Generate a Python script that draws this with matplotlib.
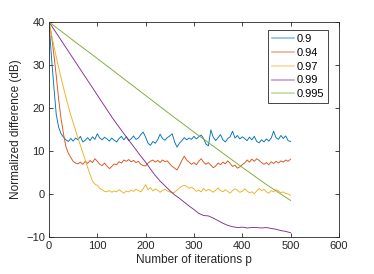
import numpy as np
import matplotlib
matplotlib.use("Agg")
import matplotlib.pyplot as plt

# iterations for the noisy curves (every 5th iteration)
p5 = list(range(0, 501, 5))
p10 = list(range(0, 501, 10))
p50 = list(range(0, 501, 50))

lam_labels = ["0.9", "0.94", "0.97", "0.99", "0.995"]

diff_090 = [40, 32.0, 25.0, 18.5, 15.5, 14.0, 13.2, 12.6, 12.2, 12.9,
            12.3, 13.0, 12.6, 13.4, 12.1, 12.5, 13.1, 12.4, 13.3, 12.7,
            14.0, 13.0, 12.6, 13.2, 12.8, 12.3, 13.0, 12.5, 12.1, 12.9,
            13.4, 12.6, 13.3, 12.4, 12.8, 13.5, 12.7, 13.0, 13.8, 14.4,
            13.2, 11.8, 11.3, 12.2, 11.8, 12.6, 13.9, 12.9, 12.5, 13.1,
            13.5, 14.0, 12.1, 10.9, 11.8, 12.4, 13.1, 12.6, 13.0, 12.7,
            13.4, 12.8, 13.3, 13.7, 12.9, 11.6, 11.2, 14.9, 13.2, 12.4,
            13.1, 13.8, 12.6, 12.1, 12.9, 13.3, 14.6, 13.0, 13.6, 12.8,
            13.3, 12.9, 12.4, 13.2, 12.6, 13.4, 12.2, 11.9, 12.6, 12.1,
            12.8, 12.3, 13.0, 14.6, 13.1, 12.7, 13.6, 12.9, 13.5, 12.4,
            12.2]

diff_094 = [40, 37.0, 32.5, 27.5, 22.0, 17.5, 14.0, 11.0, 9.5, 8.5,
            7.6, 7.2, 7.0, 7.4, 6.9, 7.6, 7.1, 7.8, 7.3, 8.2,
            7.6, 6.9, 6.6, 7.2, 6.5, 5.9, 6.4, 7.0, 6.8, 7.5,
            7.2, 7.9, 7.6, 8.0, 7.5, 7.8, 7.3, 7.6, 6.9, 6.6,
            6.5, 7.2, 7.6, 7.9, 7.4, 7.8, 7.3, 7.9, 7.5, 7.7,
            7.0, 6.4, 6.0, 5.6, 6.6, 7.8, 8.8, 7.9, 7.4, 6.9,
            7.3, 6.8, 7.6, 8.2, 7.4, 6.9, 7.3, 6.7, 6.1, 6.5,
            7.2, 6.8, 7.4, 7.0, 7.7, 7.1, 6.4, 6.7, 6.0, 6.3,
            6.8, 7.2, 7.9, 7.4, 8.1, 7.6, 8.2, 7.8, 7.3, 6.9,
            7.3, 6.8, 7.5, 7.1, 7.6, 7.2, 7.7, 7.4, 7.9, 7.6,
            8.1]

diff_097 = [40, 37.2, 34.5, 31.9, 29.4, 27.0, 24.7, 22.5, 20.4, 18.4,
            16.6, 14.8, 13.0, 11.3, 9.6, 7.9, 6.2, 4.5, 3.0, 2.3,
            2.0, 1.3, 1.0, 0.6, 0.5, 0.8, 0.4, 0.7, 0.5, 1.0,
            0.6, 0.2, 0.7, 0.5, 0.9, 0.6, 1.1, 0.8, 0.5, 1.2,
            2.2, 1.0, 1.5, 0.7, 1.2, 0.9, 0.4, 0.8, 1.1, 0.7,
            0.5, 0.2, 0.4, 0.9, 1.4, 1.8, 2.0, 1.8, 1.3, 1.6,
            1.2, 0.6, 0.9, 0.5, 1.3, 0.7, 1.1, 0.8, 0.4, 0.9,
            1.4, 0.8, 0.5, 1.0, 0.6, 0.2, 0.8, 1.2, 0.9, 0.4,
            0.6, 1.2, 0.7, 0.3, 0.5, 0.1, 0.7, 1.3, 0.8, 1.1,
            0.5, 0.2, 0.8, 0.5, 1.0, 0.7, 0.3, 0.5, 0.1, 0.0,
            -0.3]

diff_099 = [40, 38.3, 36.6, 34.9, 33.2, 31.5, 29.8, 28.1, 26.4, 24.7,
            23.0, 21.3, 19.6, 17.9, 16.3, 14.8, 13.3, 11.8, 10.3, 8.8,
            7.4, 5.8, 4.3, 3.0, 1.9, 0.8, -0.2, -1.0, -1.9, -2.8,
            -3.6, -4.5, -5.0, -5.1, -5.6, -6.2, -6.8, -7.3, -7.6, -7.8,
            -7.7, -7.9, -7.8, -7.8, -7.9, -7.8, -8.0, -8.2, -8.5, -8.7,
            -9.0]

diff_0995 = [40, 35.7, 31.5, 27.2, 22.9, 18.6, 14.4, 10.3, 6.2, 2.2, -1.5]

colors = ["#0072BD", "#D95319", "#EDB120", "#7E2F8E", "#77AC30"]

plt.rcParams.update({
    "font.family": ["Liberation Sans", "DejaVu Sans"],
    "font.size": 8,
    "axes.linewidth": 0.6,
    "axes.edgecolor": "#262626",
    "xtick.color": "#262626",
    "ytick.color": "#262626",
    "xtick.direction": "in",
    "ytick.direction": "in",
    "xtick.top": True,
    "ytick.right": True,
    "xtick.major.size": 3,
    "ytick.major.size": 3,
    "xtick.major.width": 0.6,
    "ytick.major.width": 0.6,
})

fig = plt.figure(figsize=(3.74, 2.74), dpi=100)
ax = fig.add_axes([0.131, 0.135, 0.775, 0.785])

series = [(p5, diff_090), (p5, diff_094), (p5, diff_097), (p10, diff_099), (p50, diff_0995)]
for (x, y), c, lab in zip(series, colors, lam_labels):
    ax.plot(x, y, color=c, lw=0.65, label=lab)

ax.set_xlim(0, 600)
ax.set_ylim(-10, 40)
ax.set_xticks(np.arange(0, 601, 100))
ax.set_yticks(np.arange(-10, 41, 10))
ax.tick_params(labelsize=8, pad=3)
ax.set_xlabel("Number of iterations p", fontsize=8.5, color="#262626", labelpad=2)
ax.set_ylabel("Normalized difference (dB)", fontsize=8.5, color="#262626", labelpad=3)

leg = ax.legend(loc="upper right", bbox_to_anchor=(0.962, 0.963), borderaxespad=0,
                fancybox=False, framealpha=1, edgecolor="#262626", fontsize=8,
                handlelength=2.0, handletextpad=0.2, labelspacing=0.35,
                borderpad=0.35)
leg.get_frame().set_linewidth(0.6)
for h in leg.get_lines():
    h.set_linewidth(1.2)
    h.set_alpha(0.45)

fig.savefig("out.png", dpi=100)
